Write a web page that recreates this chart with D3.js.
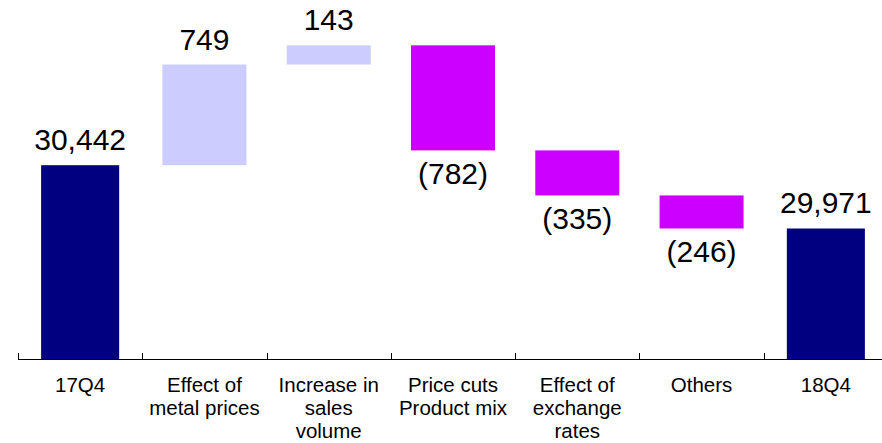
<!DOCTYPE html>
<html>
<head>
<meta charset="utf-8">
<script src="https://cdn.jsdelivr.net/npm/d3@7"></script>
<style>
  html, body { margin: 0; padding: 0; background: #fff; }
  svg { display: block; font-family: "Liberation Sans", Arial, sans-serif; }
</style>
</head>
<body>
<svg id="chart" width="882" height="443"></svg>
<script>
const categories = ["17Q4", "Effect of\nmetal prices", "Increase in\nsales\nvolume", "Price cuts\nProduct mix", "Effect of\nexchange\nrates", "Others", "18Q4"];
const values = [30442, 749, 143, -782, -335, -246, 29971];
const kinds = ["total", "delta", "delta", "delta", "delta", "delta", "total"];
const valueLabels = ["30,442", "749", "143", "(782)", "(335)", "(246)", "29,971"];

const svg = d3.select("#chart");
const x = d3.scaleBand().domain(categories).range([18, 888]).padding(0);
const y = d3.scaleLinear().domain([29000, 31500]).range([359, 23]);

// build waterfall segments
let running = 0;
const segs = values.map((v, i) => {
  let lo, hi;
  if (kinds[i] === "total") { lo = y.domain()[0]; hi = v; running = v; }
  else { const start = running; running += v; lo = Math.min(start, running); hi = Math.max(start, running); }
  return { cat: categories[i], v, kind: kinds[i], lo, hi, label: valueLabels[i] };
});

const colorOf = d => d.kind === "total" ? "#000080" : (d.v > 0 ? "#CCCCFF" : "#CC00FF");
const widthOf = d => d.kind === "total" ? x.bandwidth() * 0.628 : x.bandwidth() * 0.676;

svg.append("g").selectAll("rect").data(segs).join("rect")
  .attr("x", d => x(d.cat) + (x.bandwidth() - widthOf(d)) / 2)
  .attr("width", d => widthOf(d))
  .attr("y", d => y(d.hi))
  .attr("height", d => y(d.lo) - y(d.hi))
  .attr("fill", colorOf);

// value labels
svg.append("g").selectAll("text").data(segs).join("text")
  .attr("x", d => x(d.cat) + x.bandwidth() / 2)
  .attr("y", d => d.v >= 0 || d.kind === "total" ? y(d.hi) - 15 : y(d.lo) + 34)
  .attr("text-anchor", "middle")
  .attr("font-size", 30)
  .attr("fill", "#000")
  .text(d => d.label);

// axis
const ax = svg.append("g");
ax.append("line").attr("x1", 18).attr("x2", 882).attr("y1", 359.5).attr("y2", 359.5)
  .attr("stroke", "#000").attr("stroke-width", 1.2);
ax.selectAll("line.tick").data(categories).join("line").attr("class", "tick")
  .attr("x1", d => Math.round(x(d)) + 0.5).attr("x2", d => Math.round(x(d)) + 0.5)
  .attr("y1", 359).attr("y2", 353).attr("stroke", "#000").attr("stroke-width", 1);

const lab = ax.selectAll("text").data(categories).join("text")
  .attr("x", d => x(d) + x.bandwidth() / 2)
  .attr("y", 392)
  .attr("text-anchor", "middle")
  .attr("font-size", 20.5)
  .attr("fill", "#000");
lab.each(function(d) {
  const t = d3.select(this);
  d.split("\n").forEach((line, i) => {
    t.append("tspan").attr("x", x(d) + x.bandwidth() / 2).attr("dy", i === 0 ? 0 : 22.8).text(line);
  });
});
</script>
</body>
</html>
